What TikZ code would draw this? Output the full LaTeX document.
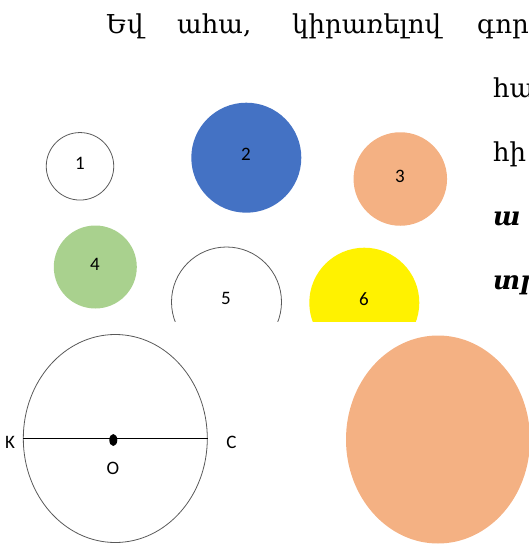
\documentclass[tikz,border=0pt]{standalone}
\usepackage{fontspec}
\setmainfont{DejaVu Serif}
\newfontfamily\lblfont{Carlito}
\usetikzlibrary{shapes.geometric}
\begin{document}
\begin{tikzpicture}[x=1pt,y=-1pt,
  arm/.style={anchor=base west,inner sep=0pt,font=\fontsize{26}{30}\selectfont},
  armbi/.style={arm,font=\fontsize{26}{30}\selectfont\bfseries\itshape},
  lbl/.style={anchor=base,inner sep=0pt,font=\lblfont\fontsize{19}{22}\selectfont},
  ring/.style={circle,inner sep=0pt,draw=black!65,line width=0.8pt},
  disc/.style={circle,inner sep=0pt,draw=none},
  oval/.style={ellipse,inner sep=0pt,minimum width=184pt,minimum height=208pt}
]
\useasboundingbox (0,0) rectangle (529,544);
\clip (0,0) rectangle (529,544);
% text
\node[arm] (w1) at (106,33) {Եվ};
\node[arm] (w2) at (177,33) {ահա,};
\node[arm] (w3) at (292,33) {կիրառելով};
\node[arm] (w4) at (477,33) {գոր};
\node[arm] (r2) at (493,97) {հա};
\node[arm] (r3) at (493,161) {հի};
\node[armbi] (r4) at (493,225) {ա};
\node[armbi] (r5) at (493,289) {տր};
% circles
\node[ring,minimum size=67.5pt] (c1) at (80,166.3) {};
\node[disc,fill={rgb,255:red,68;green,114;blue,196},minimum size=110pt] (c2) at (246.3,157.7) {};
\node[disc,fill={rgb,255:red,244;green,177;blue,131},minimum size=93.5pt] (c3) at (400.3,179) {};
\node[disc,fill={rgb,255:red,169;green,209;blue,142},minimum size=83pt] (c4) at (95.3,267) {};
\begin{scope}
\clip (0,0) rectangle (529,321.5);
\node[ring,minimum size=110pt] (c5) at (226.5,302) {};
\node[disc,fill=yellow,minimum size=110pt] (c6) at (364.3,302.7) {};
\end{scope}
\node[lbl] (l1) at (80,169) {1};
\node[lbl] (l2) at (246,160.7) {2};
\node[lbl] (l3) at (400,182) {3};
\node[lbl] (l4) at (95,270) {4};
\node[lbl] (l5) at (226,304) {5};
\node[lbl] (l6) at (364,305) {6};
% bottom left circle with diameter
\node[oval,draw=black!65,line width=0.8pt] (big) at (115.3,438.5) {};
\draw[line width=0.9pt] (big.west) -- (big.east);
\node[ellipse,fill=black,inner sep=0pt,minimum width=8pt,minimum height=12pt] (dot) at (113.3,440) {};
\node[lbl] (K) at (10,448) {K};
\node[lbl] (C) at (231.5,448) {C};
\node[lbl] (O) at (113,474) {O};
% bottom right orange oval
\node[oval,fill={rgb,255:red,244;green,177;blue,131}] (egg) at (438,439.5) {};
\end{tikzpicture}
\end{document}
